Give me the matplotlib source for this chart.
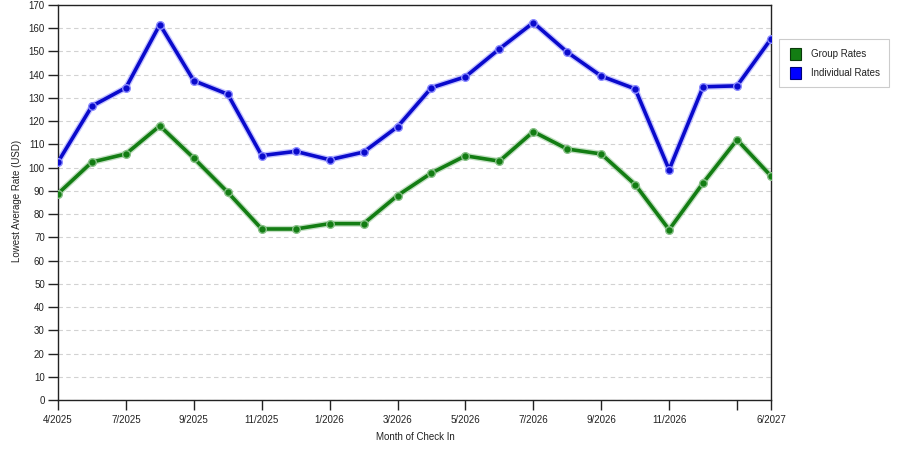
import matplotlib
matplotlib.use("Agg")
import matplotlib.pyplot as plt
from matplotlib.patches import Rectangle

months = ["4/2025", "5/2025", "7/2025", "8/2025", "9/2025", "10/2025", "11/2025",
          "12/2025", "1/2026", "2/2026", "3/2026", "4/2026", "5/2026", "6/2026",
          "7/2026", "8/2026", "9/2026", "10/2026", "11/2026", "12/2026", "1/2027",
          "6/2027"]
group_rates = [88.8, 102.4, 105.9, 118.0, 104.1, 89.4, 73.6, 73.6, 75.9, 75.9,
               88.0, 97.7, 105.1, 102.8, 115.5, 108.0, 105.9, 92.7, 73.3, 93.4,
               112.0, 96.4]
individual_rates = [102.4, 126.5, 134.4, 161.6, 137.4, 131.6, 105.2, 107.0, 103.4,
                    106.7, 117.6, 134.4, 139.1, 151.1, 162.4, 149.7, 139.4, 133.9,
                    99.1, 134.8, 135.2, 155.4]
tick_idx = [0, 2, 4, 6, 8, 10, 12, 14, 16, 18, 20, 21]
tick_labels = ["4/2025", "7/2025", "9/2025", "11/2025", "1/2026", "3/2026", "5/2026",
               "7/2026", "9/2026", "11/2026", "", "6/2027"]
series_names = ["Group Rates", "Individual Rates"]

plt.rcParams['font.family'] = ['Liberation Sans', 'DejaVu Sans']
W, H = 900, 450
fig = plt.figure(figsize=(9, 4.5), dpi=100)
ax = fig.add_axes([58/W, 1 - 400/H, (771-58)/W, (400-5)/H])

x = list(range(len(months)))
green = "#137d13"
blue = "#0a0acc"
styles = [(group_rates, green, "#86c086"), (individual_rates, blue, "#8a8aff")]
for vals, col, halo in styles:
    ax.plot(x, vals, color=halo, lw=4.5, alpha=0.5, solid_capstyle='round', zorder=2)
    ax.plot(x, vals, color=col, lw=2.6, zorder=3,
            marker='o', markersize=5.5, markerfacecolor=col,
            markeredgecolor=halo, markeredgewidth=1.0)

ax.set_xlim(0, len(months) - 1)
ax.set_ylim(0, 170)
ax.set_yticks(range(0, 171, 10))
ax.set_xticks(tick_idx)
ax.set_xticklabels(tick_labels)
ax.tick_params(axis='both', labelsize=7, length=7, width=1, color='#222222',
               labelcolor='#222222', direction='out', pad=2.5)
ax.tick_params(axis='x', pad=4)
ax.yaxis.grid(True, linestyle=(0, (4, 3)), color='#d2d2d2', lw=0.8)
ax.set_axisbelow(True)
for s in ax.spines.values():
    s.set_color('#222222')
    s.set_linewidth(1)

fig.text(17/W, 1 - 201/H, "Lowest Average Rate (USD)", fontsize=7, color='#222222',
         rotation=90, ha='center', va='center')
fig.text(415/W, 1 - 437/H, "Month of Check In", fontsize=7, color='#222222',
         ha='center', va='center')

# legend box
fig.add_artist(Rectangle((779/W, 1 - 87/H), 110/W, 48/H, transform=fig.transFigure,
                         facecolor='white', edgecolor='#cccccc', lw=0.8))
leg_colors = [(green, '#0a3a0a'), ('#0000ff', '#00007a')]
for i, (name, (fc, ec)) in enumerate(zip(series_names, leg_colors)):
    yc = 54 + i * 19
    fig.add_artist(Rectangle((790/W, 1 - (yc + 5.5)/H), 11/W, 11/H,
                             transform=fig.transFigure, facecolor=fc, edgecolor=ec, lw=0.8))
    fig.text(811/W, 1 - yc/H, name, fontsize=7, color='#222222', ha='left', va='center')

fig.savefig("out.png", dpi=100)
